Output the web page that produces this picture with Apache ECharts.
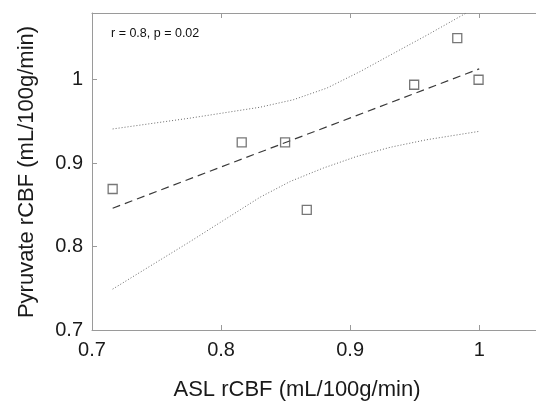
<!DOCTYPE html>
<html>
<head>
<meta charset="utf-8">
<script src="https://cdn.jsdelivr.net/npm/echarts@6/dist/echarts.min.js"></script>
<style>
html,body{margin:0;padding:0;background:#fff;}
#chart{width:536px;height:402px;}
</style>
</head>
<body>
<div id="chart"></div>
<script>
// Data
const pointsX = [0.716, 0.816, 0.8496, 0.8664, 0.9496, 0.983, 0.9995];
const pointsY = [0.869, 0.925, 0.925, 0.844, 0.994, 1.050, 1.000];
const fitX = [0.716, 1.0];
const fitY = [0.846, 1.013];
const upperX = [0.716, 0.776, 0.830, 0.856, 0.882, 0.908, 0.934, 0.959, 0.990];
const upperY = [0.941, 0.954, 0.967, 0.976, 0.990, 1.010, 1.032, 1.053, 1.080];
const lowerX = [0.716, 0.776, 0.830, 0.8535, 0.879, 0.905, 0.931, 0.959, 0.9995];
const lowerY = [0.749, 0.806, 0.859, 0.878, 0.894, 0.908, 0.919, 0.928, 0.938];
const xTicks = [0.7, 0.8, 0.9, 1.0];
const yTicks = [0.7, 0.8, 0.9, 1.0];
const xRange = [0.7, 1.044];
const yRange = [0.7, 1.08];
const xTitle = 'ASL rCBF (mL/100g/min)';
const yTitle = 'Pyruvate rCBF (mL/100g/min)';
const annotation = 'r = 0.8, p = 0.02';

const zip = (a, b) => a.map((v, i) => [v, b[i]]);
const fmt = v => (Math.abs(v - 1) < 1e-9 ? '1' : v.toFixed(1));
const FONT = '"Liberation Sans", Arial, Helvetica, sans-serif';
const AXIS_COLOR = '#9a9a9a';

const chart = echarts.init(document.getElementById('chart'), null, {renderer: 'canvas'});

const axisCommon = {
  type: 'value',
  splitLine: {show: false},
  axisLine: {show: true, onZero: false, lineStyle: {color: AXIS_COLOR, width: 1}},
  axisTick: {show: true, inside: true, length: 5, lineStyle: {color: AXIS_COLOR}}
};

chart.setOption({
  animation: false,
  backgroundColor: '#fff',
  grid: {left: 92, top: 13, right: 0, bottom: 72, containLabel: false},
  xAxis: [
    Object.assign({}, axisCommon, {
      position: 'bottom', min: xRange[0], max: xRange[1],
      axisTick: Object.assign({}, axisCommon.axisTick, {customValues: xTicks}),
      axisLabel: {customValues: xTicks, formatter: fmt, margin: 10,
        color: '#1a1a1a', fontSize: 20, fontFamily: FONT}
    }),
    Object.assign({}, axisCommon, {
      position: 'top', min: xRange[0], max: xRange[1],
      axisTick: Object.assign({}, axisCommon.axisTick, {customValues: xTicks}),
      axisLabel: {show: false}
    })
  ],
  yAxis: [
    Object.assign({}, axisCommon, {
      position: 'left', min: yRange[0], max: yRange[1],
      axisTick: Object.assign({}, axisCommon.axisTick, {customValues: yTicks}),
      axisLabel: {customValues: yTicks, formatter: fmt, margin: 9,
        color: '#1a1a1a', fontSize: 20, fontFamily: FONT}
    }),
    Object.assign({}, axisCommon, {
      position: 'right', min: yRange[0], max: yRange[1],
      axisLine: {show: false},
      axisTick: {show: false},
      axisLabel: {show: false}
    })
  ],
  series: [
    {
      type: 'line', data: zip(upperX, upperY), showSymbol: false, smooth: false,
      lineStyle: {color: '#6a6a6a', width: 1, type: [1, 2]}, silent: true, z: 2
    },
    {
      type: 'line', data: zip(lowerX, lowerY), showSymbol: false, smooth: false,
      lineStyle: {color: '#6a6a6a', width: 1, type: [1, 2]}, silent: true, z: 2
    },
    {
      type: 'line', data: zip(fitX, fitY), showSymbol: false,
      lineStyle: {color: '#3a3a3a', width: 1.2, type: [8, 5]}, silent: true, z: 3
    },
    {
      type: 'scatter', data: zip(pointsX, pointsY), symbol: 'rect', symbolSize: 9,
      itemStyle: {color: 'rgba(255,255,255,0)', borderColor: '#555', borderWidth: 1.3}, z: 4
    }
  ],
  graphic: [
    {
      type: 'text', x: 297, y: 390,
      style: {text: xTitle, font: '22px ' + FONT, fill: '#1a1a1a', align: 'center', verticalAlign: 'middle'}
    },
    {
      type: 'text', x: 27, y: 172, rotation: Math.PI / 2,
      style: {text: yTitle, font: '22px ' + FONT, fill: '#1a1a1a', align: 'center', verticalAlign: 'middle'}
    },
    {
      type: 'text', x: 111, y: 34,
      style: {text: annotation, font: '12.5px ' + FONT, fill: '#111', align: 'left', verticalAlign: 'middle'}
    }
  ]
});
</script>
</body>
</html>
